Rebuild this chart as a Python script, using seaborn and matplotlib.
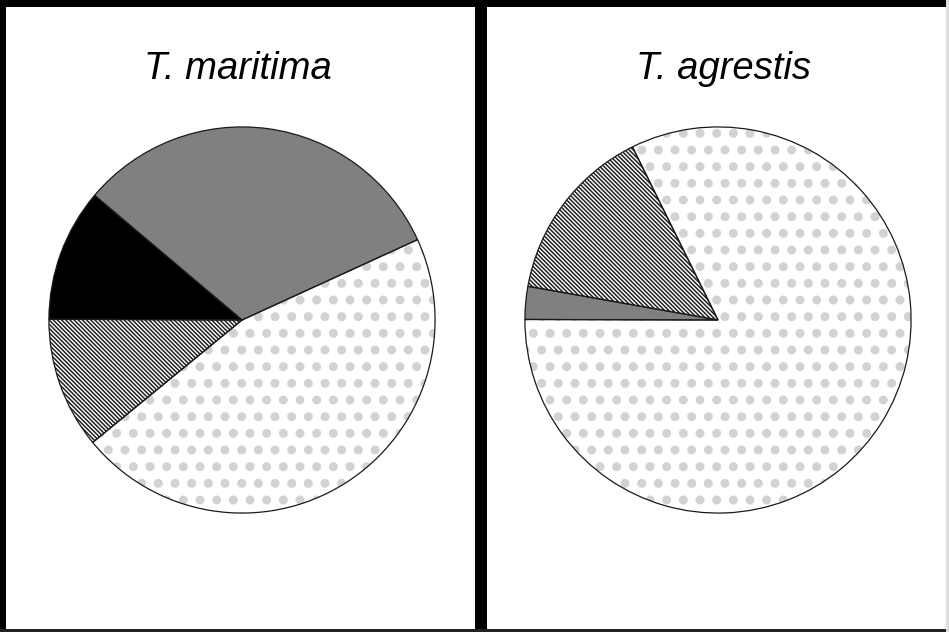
import matplotlib
matplotlib.use("Agg")
import matplotlib.pyplot as plt
from matplotlib.patches import Rectangle
import seaborn as sns

# ---------------- data ----------------
categories = ["A", "B", "C", "D"]          # fill styles: grey, black, hatched, dotted
panel_titles = ["T. maritima", "T. agrestis"]

# slice order (counter-clockwise) and percentages
left_order = ["A", "B", "C", "D"]
left_values = [32.0, 11.1, 11.0, 45.9]
left_start = 24.6

right_order = ["C", "A", "D"]
right_values = [14.9, 2.75, 82.35]
right_start = 116.3

# ---------------- style ----------------
sns.set_theme(style="white")
plt.rcParams["font.family"] = ["Liberation Sans", "DejaVu Sans"]

styles = {
    "A": dict(face="#808080", hatch=None, hcolor="#808080", hlw=1.0),
    "B": dict(face="#000000", hatch=None, hcolor="#000000", hlw=1.0),
    "C": dict(face="#ffffff", hatch="\\" * 8, hcolor="#222222", hlw=1.1),
    "D": dict(face="#ffffff", hatch=".", hcolor="#d2d2d2", hlw=4.0),
}

W, H = 949, 632
fig = plt.figure(figsize=(W / 100, H / 100), dpi=100)
fig.patch.set_facecolor("white")


def px_rect(x, y, w, h, color):
    r = Rectangle((x / W, 1 - (y + h) / H), w / W, h / H,
                  transform=fig.transFigure, facecolor=color,
                  edgecolor="none", zorder=10)
    fig.add_artist(r)


def draw_pie(cx, cy, r, order, values, start, title, tx):
    ax = fig.add_axes([(cx - r) / W, 1 - (cy + r) / H, 2 * r / W, 2 * r / H])
    vals = [v for v in values if v > 0]
    cats = [c for c, v in zip(order, values) if v > 0]
    wedges, _ = ax.pie(vals, startangle=start, counterclock=True, radius=1.0,
                       wedgeprops=dict(linewidth=0))
    for w, c in zip(wedges, cats):
        st = styles[c]
        w.set_facecolor(st["face"])
        w.set_edgecolor(st["hcolor"])
        w.set_linewidth(0)
        if st["hatch"]:
            w.set_hatch(st["hatch"])
            if hasattr(w, "set_hatch_linewidth"):
                w.set_hatch_linewidth(st["hlw"])
    # outlines
    ax.pie(vals, startangle=start, counterclock=True, radius=1.0,
           wedgeprops=dict(facecolor="none", edgecolor="#1a1a1a", linewidth=0.9))
    ax.set_xlim(-1.01, 1.01)
    ax.set_ylim(-1.01, 1.01)
    ax.set_aspect("equal")
    ax.axis("off")
    fig.text(tx / W, 1 - 79 / H, title, ha="center", va="baseline",
             fontsize=27.5, style="italic", color="black")


draw_pie(242, 320, 195, left_order, left_values, left_start, panel_titles[0], 238)
draw_pie(718, 320, 195, right_order, right_values, right_start, panel_titles[1], 723)

# panel frames
px_rect(0, 0, 6, H, "black")
px_rect(0, 0, W, 7, "black")
px_rect(475, 0, 12, H, "black")
px_rect(0, 629, W, 3, "#222222")
px_rect(946, 0, 3, H, "#dddddd")

fig.savefig("out.png", dpi=100, facecolor="white")
